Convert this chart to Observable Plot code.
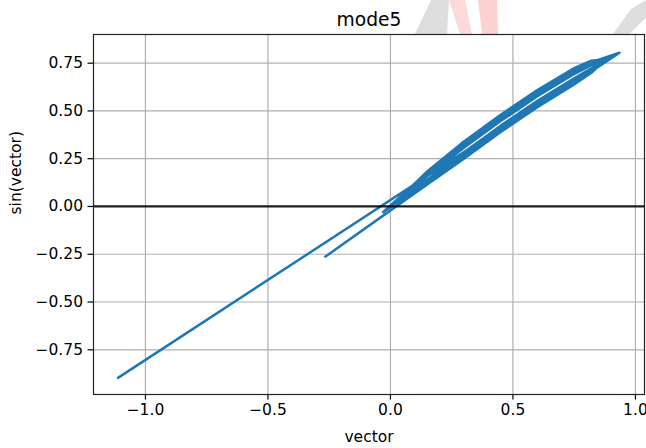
<!DOCTYPE html>
<html>
<head>
<meta charset="utf-8">
<script src="https://cdn.jsdelivr.net/npm/d3@7"></script>
<script src="https://cdn.jsdelivr.net/npm/@observablehq/plot@0.6"></script>
<style>
  html, body { margin: 0; padding: 0; background: #fff; }
  #wrap { position: relative; width: 646px; height: 448px; overflow: hidden; }
  #wm { position: absolute; left: 0; top: 0; }
  #chart { position: absolute; left: 0; top: 0; }
  #chart svg { background: transparent !important; }
</style>
</head>
<body>
<div id="wrap">
  <svg id="wm" width="646" height="448">
    <polygon points="415,34 431,0 449,0 447,34" fill="#dedede"/>
    <polygon points="449,0 465,0 472,34 460,34" fill="#fdd9d9"/>
    <polygon points="478,0 497,0 498,34 482,34" fill="#fcd2d2"/>
    <polygon points="613,34 631,9 646,0 646,18 629,34" fill="#dedede"/>
  </svg>
  <div id="chart"></div>
</div>
<script>
// Title and axis labels
const titleText = "mode5";
const xLabel = "vector";
const yLabel = "sin(vector)";

// Tick values
const xTicks = [-1.0, -0.5, 0.0, 0.5, 1.0];
const yTicks = [-0.75, -0.5, -0.25, 0.0, 0.25, 0.5, 0.75];

// Series: consecutive samples (vector, sin(vector))
const vectorValues = [
  -0.265,
  0.15, 0.30, 0.45, 0.60, 0.75, 0.82, 0.88,  0.82, 0.75, 0.60, 0.45, 0.30, 0.15, 0.02,
  0.15, 0.30, 0.45, 0.60, 0.75, 0.82, 0.86,  0.82, 0.75, 0.60, 0.45, 0.30, 0.15, -0.01,
  0.15, 0.30, 0.45, 0.60, 0.75, 0.82, 0.935, 0.82, 0.75, 0.60, 0.45, 0.30, 0.15, 0.05,
  0.15, 0.30, 0.45, 0.60, 0.75, 0.82, 0.87,  0.82, 0.75, 0.60, 0.45, 0.30, 0.15, 0.00,
  0.15, 0.30, 0.45, 0.60, 0.75, 0.82, 0.90,  0.82, 0.75, 0.60, 0.45, 0.30, 0.15, -0.03,
  0.15, 0.30, 0.45, 0.60, 0.75, 0.82, 0.86,  0.82, 0.75, 0.60, 0.45, 0.30, 0.15, 0.08,
  0.15, 0.30, 0.45, 0.60, 0.75, 0.82, 0.89,  0.82, 0.75, 0.60, 0.45, 0.30, 0.15, -0.02,
  0.15, 0.30, 0.45, 0.60, 0.75, 0.82, 0.87,  0.82, 0.75, 0.60, 0.45, 0.30, 0.15, 0.03,
  0.15, 0.30, 0.45, 0.60, 0.75, 0.82, 0.88,  -1.111
];
const sinValues = [
  -0.2619,
  0.1156, 0.2505, 0.3900, 0.5196, 0.6388, 0.6996, 0.7707,  0.7626, 0.7244, 0.6096, 0.4800, 0.3405, 0.1832, 0.0200,
  0.1306, 0.2705, 0.4100, 0.5396, 0.6578, 0.7136, 0.7578,  0.7486, 0.7054, 0.5896, 0.4600, 0.3205, 0.1682, -0.0100,
  0.1231, 0.2605, 0.4000, 0.5296, 0.6483, 0.7066, 0.8046,  0.7556, 0.7149, 0.5996, 0.4700, 0.3305, 0.1757, 0.0500,
  0.1381, 0.2805, 0.4200, 0.5496, 0.6673, 0.7206, 0.7643,  0.7416, 0.6959, 0.5796, 0.4500, 0.3105, 0.1607, 0.0000,
  0.1194, 0.2555, 0.3950, 0.5246, 0.6436, 0.7031, 0.7833,  0.7591, 0.7196, 0.6046, 0.4750, 0.3355, 0.1794, -0.0300,
  0.1344, 0.2755, 0.4150, 0.5446, 0.6626, 0.7171, 0.7578,  0.7451, 0.7006, 0.5846, 0.4550, 0.3155, 0.1644, 0.0799,
  0.1269, 0.2655, 0.4050, 0.5346, 0.6531, 0.7101, 0.7771,  0.7521, 0.7101, 0.5946, 0.4650, 0.3255, 0.1719, -0.0200,
  0.1404, 0.2835, 0.4230, 0.5526, 0.6702, 0.7227, 0.7643,  0.7395, 0.6930, 0.5766, 0.4470, 0.3075, 0.1584, 0.0300,
  0.1209, 0.2575, 0.3970, 0.5266, 0.6455, 0.7045, 0.7707,  -0.8962
];

const data = vectorValues.map((v, i) => ({x: v, y: sinValues[i]}));

const fmtX = d => (d < 0 ? "\u2212" : "") + Math.abs(d).toFixed(1);
const fmtY = d => (d < 0 ? "\u2212" : "") + Math.abs(d).toFixed(2);

const chart = Plot.plot({
  width: 646,
  height: 448,
  marginLeft: 93,
  marginRight: 2,
  marginTop: 34,
  marginBottom: 54,
  style: {fontFamily: "DejaVu Sans", fontSize: "15.5px", color: "#000", background: "transparent"},
  x: {domain: [-1.212, 1.037]},
  y: {domain: [-0.984, 0.900]},
  marks: [
    Plot.frame({fill: "#fff", stroke: "none"}),
    Plot.gridX(xTicks, {stroke: "#b0b0b0", strokeOpacity: 1, strokeWidth: 1.2}),
    Plot.gridY(yTicks, {stroke: "#b0b0b0", strokeOpacity: 1, strokeWidth: 1.2}),
    Plot.axisX(xTicks, {tickFormat: fmtX, tickSize: 5.5, tickPadding: 4, label: null, strokeWidth: 1.2}),
    Plot.axisY(yTicks, {tickFormat: fmtY, tickSize: 5.5, tickPadding: 5, label: null, strokeWidth: 1.2}),
    Plot.line(data, {x: "x", y: "y", stroke: "#1f77b4", strokeWidth: 2.5, strokeLinejoin: "round", strokeLinecap: "square"}),
    Plot.ruleY([0], {stroke: "#000", strokeWidth: 2.2, strokeOpacity: 0.85}),
    Plot.frame({stroke: "#222", strokeWidth: 1.2}),
    Plot.text([titleText], {frameAnchor: "top", lineAnchor: "middle", dy: -14, text: d => d, fontSize: 18.7}),
    Plot.text([xLabel], {frameAnchor: "bottom", lineAnchor: "middle", dy: 43, text: d => d}),
    Plot.text([yLabel], {frameAnchor: "left", lineAnchor: "middle", dx: -77, rotate: -90, text: d => d})
  ]
});
document.getElementById("chart").appendChild(chart);
</script>
</body>
</html>
